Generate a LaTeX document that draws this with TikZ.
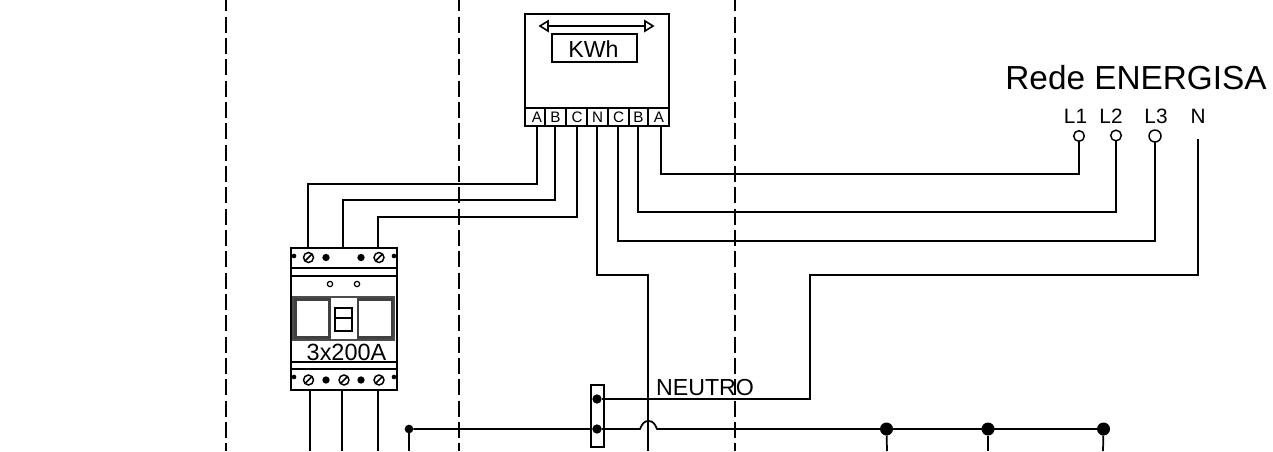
\documentclass[tikz,border=0pt]{standalone}
\usepackage{fontspec}
\setmainfont{Liberation Sans}
\newcommand{\pxfont}[1]{\fontsize{#1}{#1}\selectfont}
\tikzset{
  x=0.75pt,y=-0.75pt,
  every node/.style={outer sep=0pt},
  wire/.style={line width=1.3pt,line join=miter,black},
  thin box/.style={line width=1pt,draw=black},
  guide/.style={line width=1.1pt,dash pattern=on 12pt off 4pt,dash phase=3.5pt,black},
  lbl/.style={inner sep=0pt,anchor=base,text=black},
  termlbl/.style={lbl,font=\pxfont{11.4pt}},
  linelbl/.style={lbl,font=\pxfont{15.6pt}},
  term/.style={circle,draw=black,line width=1.1pt,fill=white,inner sep=0pt,minimum size=8pt},
  bigdot/.style={circle,fill=black,inner sep=0pt,minimum size=9.75pt},
  meddot/.style={circle,fill=black,inner sep=0pt,minimum size=7pt},
  smalldot/.style={circle,fill=black,inner sep=0pt,minimum size=6.5pt},
  tinydot/.style={circle,fill=black,inner sep=0pt,minimum size=3.5pt},
  ring/.style={circle,draw=black,line width=0.9pt,inner sep=0pt,minimum size=4pt},
  screw/.style={circle,draw=black,line width=1.1pt,inner sep=0pt,minimum size=7.5pt,
    path picture={\draw[line width=1.1pt] (path picture bounding box.south west) -- (path picture bounding box.north east);}},
}
\begin{document}
\begin{tikzpicture}
\useasboundingbox (0,0) rectangle (1273,451);
% guides
\coordinate (g1a) at (226,0); \coordinate (g1b) at (226,451);
\coordinate (g2a) at (459,0); \coordinate (g2b) at (459,451);
\coordinate (g3a) at (735,0); \coordinate (g3b) at (735,451);
\draw[guide] (g1a) -- (g1b);
\draw[guide] (g2a) -- (g2b);
\draw[guide] (g3a) -- (g3b);
% meter
\node[thin box,line width=1.3pt,minimum width=108pt,minimum height=84pt,inner sep=0pt,anchor=north west] (meter) at (525,14) {};
\node[thin box,minimum width=63.75pt,minimum height=21pt,inner sep=0pt,anchor=north west] (kwh) at (552,34) {};
\node[lbl,font=\pxfont{17.4pt}] (kwht) at (593.5,57) {KWh};
\coordinate (al) at (540,26); \coordinate (ar) at (653,26);
\draw[line width=1.1pt] (al) -- (ar);
\draw[line width=1.2pt,fill=white] (540,26) -- (548,21) -- (548,31) -- cycle;
\draw[line width=1.2pt,fill=white] (653,26) -- (645,21) -- (645,31) -- cycle;
\draw[line width=1.2pt] (525,108) -- (669,108);
\foreach \x in {545,566,587,608,629,648} \draw[line width=1pt] (\x,108) -- (\x,126);
\node[termlbl] (ta1) at (537,122) {A};
\node[termlbl] (tb1) at (555.5,122) {B};
\node[termlbl] (tc1) at (577,122) {C};
\node[termlbl] (tn) at (597.5,122) {N};
\node[termlbl] (tc2) at (618.5,122) {C};
\node[termlbl] (tb2) at (638.5,122) {B};
\node[termlbl] (ta2) at (659,122) {A};
\coordinate (pa1) at (537,126); \coordinate (pb1) at (555,126); \coordinate (pc1) at (577,126);
\coordinate (pn) at (597,126); \coordinate (pc2) at (618,126); \coordinate (pb2) at (638,126); \coordinate (pa2) at (661,126);
% breaker
\node[thin box,line width=1.3pt,minimum width=79.5pt,minimum height=106.5pt,inner sep=0pt,anchor=north west] (brk) at (291,248) {};
\draw[line width=1.2pt] (291,268) -- (397,268) (291,276) -- (397,276) (291,362) -- (397,362) (291,369) -- (397,369);
\draw[line width=0.9pt,black!70] (293,297) rectangle (394,340);
\draw[line width=1.8pt,black!75] (295.5,299.5) rectangle (329.5,337.5);
\draw[line width=1.8pt,black!75] (358,299.5) rectangle (392,337.5);
\draw[line width=1.1pt] (335,308) rectangle (352,331);
\draw[line width=1.8pt] (335,308) -- (352,308);
\draw[line width=1.1pt] (335,318) -- (352,318);
\node[lbl,font=\pxfont{17.6pt}] (rating) at (346.5,360.5) {3x200A};
\node[screw] (st1) at (308.5,257.5) {};
\node[screw] (st3) at (379,257.5) {};
\node[meddot,minimum size=5.5pt] (dt1) at (326,257.5) {};
\node[meddot,minimum size=5.5pt] (dt2) at (361,257.5) {};
\node[tinydot] (ct1) at (294,256) {};
\node[tinydot] (ct2) at (394,256) {};
\node[ring] (r1) at (330,284) {};
\node[ring] (r2) at (357,284) {};
\node[screw] (sb1) at (308.5,380) {};
\node[screw] (sb2) at (344,380) {};
\node[screw] (sb3) at (379,380) {};
\node[meddot,minimum size=5.5pt] (db1) at (326,380) {};
\node[meddot,minimum size=5.5pt] (db2) at (361,380) {};
\node[tinydot] (cb1) at (294,377) {};
\node[tinydot] (cb2) at (394,377) {};
\coordinate (bi1) at (308,248); \coordinate (bi2) at (343,248); \coordinate (bi3) at (378,248);
\coordinate (bo1) at (310,390); \coordinate (bo2) at (342,390); \coordinate (bo3) at (378,390);
\coordinate (bx1) at (310,451); \coordinate (bx2) at (342,451); \coordinate (bx3) at (378,451);
\draw[wire] (pa1) |- (bi1 |- 0,184) -- (bi1);
\draw[wire] (pb1) |- (bi2 |- 0,200) -- (bi2);
\draw[wire] (pc1) |- (bi3 |- 0,217) -- (bi3);
\draw[wire] (bo1) -- (bx1);
\draw[wire] (bo2) -- (bx2);
\draw[wire] (bo3) -- (bx3);
% network
\node[lbl,font=\pxfont{25pt}] (rede) at (1136,89) {Rede ENERGISA};
\node[linelbl] (l1) at (1075.5,123) {L1};
\node[linelbl] (l2) at (1111,123) {L2};
\node[linelbl] (l3) at (1156,123) {L3};
\node[linelbl] (ln) at (1198,123) {N};
\node[term] (t1) at (1079,136) {};
\node[term] (t2) at (1116,135.5) {};
\node[term,minimum size=9pt] (t3) at (1155,136) {};
\coordinate (tn4) at (1198,139);
\draw[wire] (pa2) |- (t1 |- 0,174) -- (t1);
\draw[wire] (pb2) |- (t2 |- 0,212) -- (t2);
\draw[wire] (pc2) |- (t3 |- 0,241) -- (t3);
% neutral
\node[thin box,line width=1.1pt,minimum width=9.75pt,minimum height=46.5pt,inner sep=0pt,anchor=north west] (bar) at (591,385) {};
\node[meddot] (n1) at (597,399) {};
\node[meddot] (n2) at (597,429) {};
\coordinate (nbend) at (810,399);
\draw[wire] (tn4) |- (nbend |- 0,275) -- (nbend) -- (n1);
\coordinate (nx) at (648,451);
\draw[wire] (pn) |- (nx |- 0,275) -- (nx);
\node[lbl,font=\pxfont{17.4pt}] (neutro) at (705,395) {NEUTRO};
% bus
\node[smalldot] (b0) at (409,429) {};
\node[bigdot] (b1) at (886.5,429) {};
\node[bigdot] (b2) at (988,429) {};
\node[bigdot] (b3) at (1103.5,429) {};
\coordinate (hl) at (640,429); \coordinate (hr) at (657,429);
\draw[wire] (b0) -- (n2) -- (hl) .. controls (642,424) and (644,421) .. (648.5,421) .. controls (653,421) and (655,424) .. (hr) -- (b3);
\foreach \n/\x in {b0/409,b1/887,b2/988,b3/1103} \draw[wire] (\n) -- (\x,451);
\end{tikzpicture}
\end{document}
